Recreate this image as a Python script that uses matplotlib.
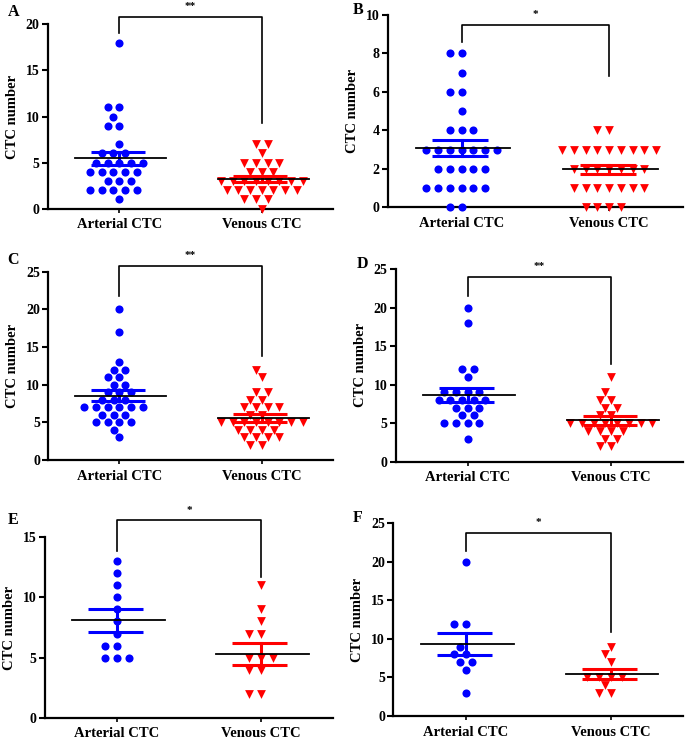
import matplotlib
matplotlib.use('Agg')
import matplotlib.pyplot as plt
import numpy as np

plt.rcParams['font.family'] = ['Liberation Serif', 'DejaVu Serif']
plt.rcParams['font.weight'] = 'bold'

categories = ['Arterial CTC', 'Venous CTC']
panel_labels = ['A', 'B', 'C', 'D', 'E', 'F']

# Data
a_arterial = [18, 11, 11, 10, 9, 9, 7, 6, 6, 6, 5, 5, 5, 5, 5, 4, 4, 4, 4, 4, 3, 3, 3, 2, 2, 2, 2, 2, 1]
a_venous = [7, 7, 6, 5, 5, 5, 5, 4, 4, 4, 3, 3, 3, 3, 3, 3, 3, 3, 2, 2, 2, 2, 2, 2, 2, 1, 1, 1, 0]
b_arterial = [8, 8, 7, 6, 6, 5, 4, 4, 4, 3, 3, 3, 3, 3, 3, 3, 2, 2, 2, 2, 2, 1, 1, 1, 1, 1, 1, 0, 0]
b_venous = [4, 4, 3, 3, 3, 3, 3, 3, 3, 3, 3, 2, 2, 2, 2, 2, 2, 2, 1, 1, 1, 1, 1, 1, 1, 0, 0, 0, 0]
c_arterial = [20, 17, 13, 12, 12, 11, 11, 10, 10, 9, 9, 9, 8, 8, 8, 7, 7, 7, 7, 7, 7, 6, 6, 6, 5, 5, 5, 5, 4, 3]
c_venous = [12, 11, 9, 9, 8, 8, 7, 7, 7, 7, 6, 6, 5, 5, 5, 5, 5, 5, 5, 5, 4, 4, 4, 4, 3, 3, 3, 3, 2, 2]
d_arterial = [20, 18, 12, 12, 11, 9, 9, 9, 9, 8, 8, 8, 8, 8, 7, 7, 7, 6, 6, 5, 5, 5, 5, 3]
d_venous = [11, 9, 8, 8, 7, 7, 6, 6, 5, 5, 5, 5, 5, 5, 5, 5, 4, 4, 4, 4, 3, 3, 2, 2]
e_arterial = [13, 12, 11, 10, 9, 8, 7, 6, 6, 5, 5, 5]
e_venous = [11, 9, 8, 7, 7, 5, 5, 5, 4, 4, 2, 2]
f_arterial = [20, 12, 12, 9, 8, 8, 7, 7, 6, 3]
f_venous = [9, 8, 7, 5, 5, 5, 5, 4, 3, 3]

# mean and SEM (arterial, venous)
means = [(5.45, 3.22), (3.08, 1.97), (8.55, 5.6), (8.6, 5.36), (8.1, 5.3), (9.3, 5.45)]
sems = [(0.67, 0.36), (0.43, 0.24), (0.75, 0.55), (0.9, 0.54), (0.95, 0.88), (1.45, 0.7)]

y_max = [20, 10, 25, 25, 15, 25]
y_step = [5, 2, 5, 5, 5, 5]
stars = ['**', '*', '**', '**', '*', '*']
# bracket: (top, left end, right end) in data units
brackets = [(20.8, 19.05, 9.3), (9.48, 8.6, 6.83), (25.8, 21.8, 13.8),
            (24.0, 21.5, 12.7), (16.43, 13.86, 11.72), (23.8, 21.4, 10.9)]

series = [(a_arterial, a_venous), (b_arterial, b_venous), (c_arterial, c_venous),
          (d_arterial, d_venous), (e_arterial, e_venous), (f_arterial, f_venous)]

W, H = 685, 740
# axes rects in pixels: left, right, top, bottom
rects = [(48, 333, 24.3, 208.7), (387.7, 683, 15, 207.3),
         (48.3, 333, 271.7, 460), (396, 683, 269, 461.7),
         (45, 333, 537.3, 717.7), (393.3, 683, 523.3, 716)]
letter_pos = [(8, 12), (353, 10), (7, 260), (357, 264), (8, 520), (353, 518)]

fig = plt.figure(figsize=(W / 100, H / 100), dpi=100)

BLUE = '#0000ff'
RED = '#ff0000'

STEP_PX = 11.7
COLLIDE_PX = 9.3


def beeswarm(vals, ypx):
    """Return x offsets in pixels: each point takes the free slot nearest the centre."""
    vals = np.asarray(vals, dtype=float)
    order = np.argsort(vals, kind='stable')
    cands = np.arange(-24, 25) * STEP_PX / 2
    cands = sorted(cands, key=lambda c: (abs(c), c))
    placed = []
    xs = np.zeros(len(vals))
    for i in order:
        y = vals[i] * ypx
        for c in cands:
            ok = True
            for px, py in placed:
                if (c - px) ** 2 + (y - py) ** 2 < COLLIDE_PX ** 2:
                    ok = False
                    break
            if ok:
                xs[i] = c
                placed.append((c, y))
                break
    return xs


for i in range(6):
    l, r, t, b = rects[i]
    ax = fig.add_axes([l / W, 1 - b / H, (r - l) / W, (b - t) / H])
    ax.set_xlim(-0.5, 1.5)
    ax.set_ylim(0, y_max[i])
    ypx = (b - t) / y_max[i]
    xpx = (r - l) / 2.0
    for j, (vals, col, mk) in enumerate(zip(series[i], [BLUE, RED], ['o', 'v'])):
        xs = j + beeswarm(vals, ypx) / xpx
        ax.scatter(xs, vals, s=34 if mk == 'o' else 40, c=col, marker=mk,
                   linewidths=0, zorder=3, clip_on=False)
        m = means[i][j]
        s = sems[i][j]
        ax.plot([j - 0.2, j + 0.18], [m + s, m + s], color=col, lw=2.2, zorder=4, solid_capstyle='butt')
        ax.plot([j - 0.2, j + 0.18], [m - s, m - s], color=col, lw=2.2, zorder=4, solid_capstyle='butt')
        ax.plot([j, j], [m - s, m + s], color=col, lw=2.2, zorder=4)
        ax.plot([j - 0.31, j + 0.33], [m, m], color='black', lw=1.3, zorder=5)

    top, le, re = brackets[i]
    ax.plot([0, 0, 1, 1], [le, top, top, re], color='black', lw=1.2, clip_on=False, zorder=6)
    ax.annotate(stars[i], xy=(0.5, top), xytext=(0, 4), textcoords='offset points',
                ha='center', va='bottom', fontsize=8, fontweight='bold',
                annotation_clip=False)

    ax.spines['top'].set_visible(False)
    ax.spines['right'].set_visible(False)
    ax.spines['left'].set_linewidth(1.6)
    ax.spines['bottom'].set_linewidth(1.6)
    ax.set_yticks(np.arange(0, y_max[i] + 0.1, y_step[i]))
    ax.set_yticklabels([str(int(v)) for v in np.arange(0, y_max[i] + 0.1, y_step[i])])
    ax.set_xticks([0, 1])
    ax.set_xticklabels(categories)
    ax.tick_params(axis='y', direction='out', length=4, width=1.5, labelsize=10, pad=2)
    ax.tick_params(axis='x', direction='out', length=3, width=1.2, labelsize=10.5, pad=4)
    for lab in ax.get_xticklabels() + ax.get_yticklabels():
        lab.set_fontweight('bold')
    ax.set_ylabel('CTC number', fontsize=10.5, fontweight='bold', labelpad=5)

    lx, ly = letter_pos[i]
    fig.text(lx / W, 1 - ly / H, panel_labels[i], fontsize=11.5, fontweight='bold',
             ha='left', va='center')

fig.savefig('out.png', dpi=100)
